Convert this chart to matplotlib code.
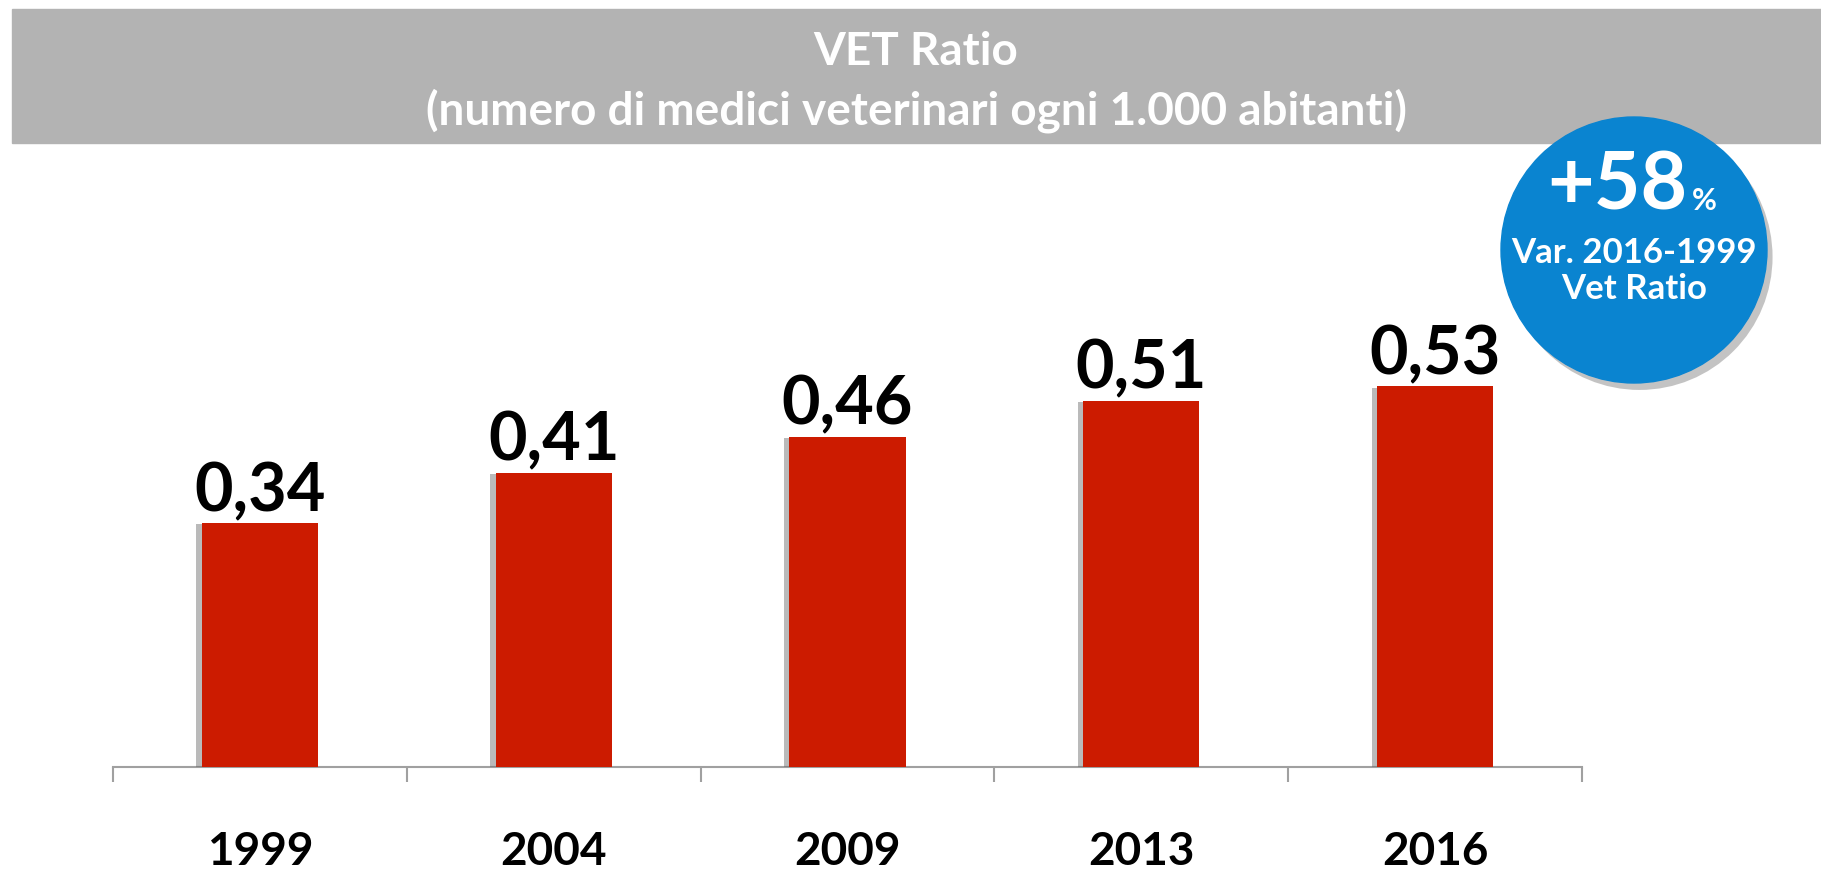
import matplotlib.pyplot as plt
import matplotlib.patheffects as pe
from matplotlib.patches import Rectangle, Circle

anni = ['1999', '2004', '2009', '2013', '2016']
vet_ratio = [0.34, 0.41, 0.46, 0.51, 0.53]
etichette = ['0,34', '0,41', '0,46', '0,51', '0,53']
titolo = 'VET Ratio'
sottotitolo = '(numero di medici veterinari ogni 1.000 abitanti)'
var_pct = '+58'
var_testo = 'Var. 2016-1999\nVet Ratio'

plt.rcParams['font.family'] = ['Lato', 'DejaVu Sans']

W, H = 1821, 881
dpi = 100
fig = plt.figure(figsize=(W / dpi, H / dpi), dpi=dpi)
fig.patch.set_facecolor('white')

# grafico a barre
px_unit = 718
ax = fig.add_axes([113 / W, (H - 767) / H, (1582 - 113) / W, 624 / H])
x = list(range(len(anni)))
bars = ax.bar(x, vet_ratio, width=0.395, color='#CC1B00', zorder=3)
for b in bars:
    b.set_path_effects([pe.SimplePatchShadow(offset=(-4, -1), shadow_rgbFace='#666666', alpha=0.45),
                        pe.Normal()])
ax.set_xlim(-0.5, len(anni) - 0.5)
ax.set_ylim(0, 624 / px_unit)
for xi, v, lab in zip(x, vet_ratio, etichette):
    ax.annotate(lab, (xi, v), xytext=(0, 12), textcoords='offset pixels',
                ha='center', va='baseline', fontsize=48, fontweight='bold', color='black')

for s in ['top', 'right', 'left']:
    ax.spines[s].set_visible(False)
ax.spines['bottom'].set_color('#A0A0A0')
ax.spines['bottom'].set_linewidth(1.5)
ax.set_yticks([])
ax.set_xticks(x)
ax.set_xticklabels(anni, fontsize=33, fontweight='bold')
ax.tick_params(axis='x', which='major', length=0, pad=46)
ax.set_xticks([i - 0.5 for i in range(len(anni) + 1)], minor=True)
ax.tick_params(axis='x', which='minor', length=11, width=1.5, color='#A0A0A0')

# sovrapposizione in coordinate pixel
ov = fig.add_axes([0, 0, 1, 1], zorder=5)
ov.set_xlim(0, W)
ov.set_ylim(H, 0)
ov.axis('off')
ov.patch.set_alpha(0)

ov.add_patch(Rectangle((12, 9), W - 12, 134, color='#B3B3B3', zorder=1))
ov.text(916, 52, titolo, ha='center', va='center', fontsize=33, fontweight='bold', color='white')
ov.text(916, 111, sottotitolo, ha='center', va='center', fontsize=33, fontweight='bold', color='white')

cerchio = Circle((1634, 250), 133, color='#0A84D0', zorder=3)
cerchio.set_path_effects([pe.SimplePatchShadow(offset=(4, -5), shadow_rgbFace='#555555', alpha=0.35),
                          pe.Normal()])
ov.add_patch(cerchio)
ov.text(1687, 210, var_pct, ha='right', va='baseline', fontsize=58, fontweight='bold', color='white', zorder=4)
ov.text(1692, 210, '%', ha='left', va='baseline', fontsize=22, fontweight='bold', color='white', zorder=4)
ov.text(1634, 271, var_testo, ha='center', va='center', fontsize=25, fontweight='bold', color='white',
        linespacing=1.15, zorder=4)

fig.savefig('out.png', dpi=dpi)
